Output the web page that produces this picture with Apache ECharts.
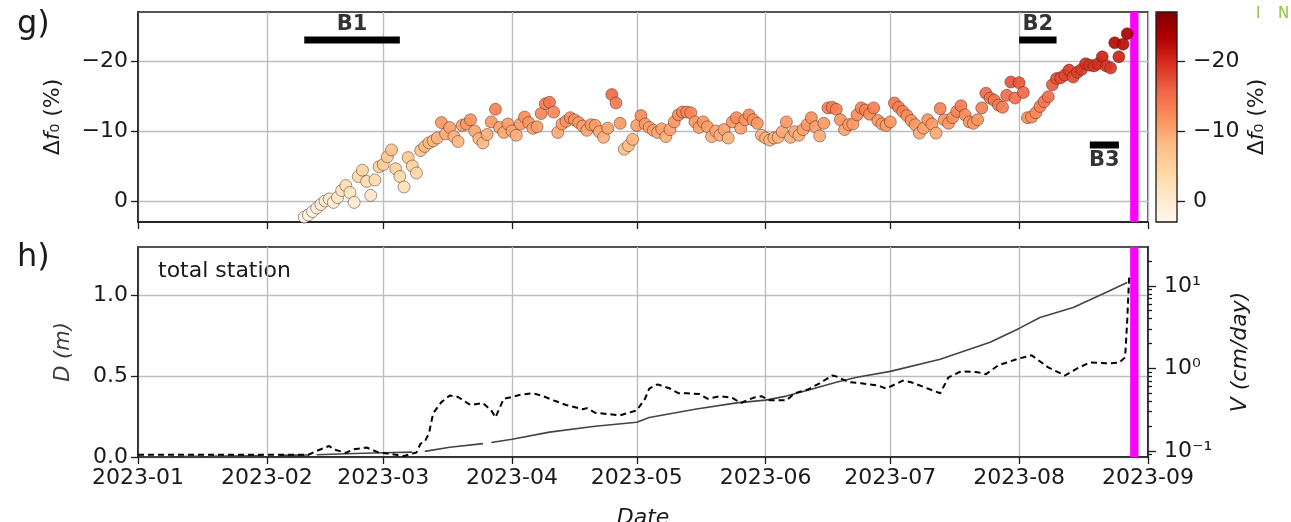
<!DOCTYPE html>
<html>
<head>
<meta charset="utf-8">
<script src="https://cdn.jsdelivr.net/npm/echarts@6/dist/echarts.min.js"></script>
<style>
  html, body { margin: 0; padding: 0; background: #ffffff; }
  #chart { width: 1291px; height: 522px; }
</style>
</head>
<body>
<div id="chart"></div>
<script>
// ---- month ticks shared by both panels ----
const monthTicks = ['2023-01-01', '2023-02-01', '2023-03-01', '2023-04-01', '2023-05-01',
                    '2023-06-01', '2023-07-01', '2023-08-01', '2023-09-01'];

// ---- panel g: daily relative change of the resonance frequency (%) ----
const f0Start = '2023-02-10';
const f0Values = [
  // Feb 10 - Feb 28
  2.3, 2.0, 1.5, 1.0, 0.5, 0.0, -0.3, 0.2, -0.5, -1.5, -2.2, -1.2, 0.2, -3.5, -4.4, -2.8, -0.8, -3.0, -4.9,
  // March
  -5.2, -6.3, -7.3, -4.6, -3.5, -2.0, -6.2, -5.0, -4.0, -7.2, -7.8, -8.3, -8.6, -9.0, -11.2, -9.6,
  -10.5, -9.2, -8.5, -10.8, -11.0, -11.6, -10.0, -8.9, -8.3, -9.5, -11.3, -13.1, -10.5, -9.8, -11.0,
  // April
  -10.0, -9.4, -11.0, -12.0, -11.2, -10.4, -10.6, -12.5, -13.9, -14.1, -12.7, -9.8, -11.0, -11.4, -11.9,
  -11.6, -11.2, -10.7, -10.1, -10.9, -10.8, -9.9, -9.1, -10.4, -15.2, -14.0, -11.1, -7.4, -7.9, -8.8,
  // May
  -10.8, -12.2, -11.0, -10.5, -10.1, -9.8, -10.3, -9.2, -10.2, -11.3, -12.3, -12.7, -12.7, -12.6, -11.3,
  -10.5, -11.3, -10.6, -9.2, -10.0, -9.4, -10.2, -9.0, -11.3, -11.9, -10.4, -11.6, -12.3, -11.6, -11.1, -9.4,
  // June
  -9.0, -8.7, -9.0, -9.1, -9.9, -11.3, -9.1, -9.9, -9.4, -10.2, -10.9, -11.9, -10.6, -9.3, -11.1,
  -13.3, -13.4, -13.1, -11.6, -10.2, -10.9, -11.0, -12.3, -13.3, -13.0, -12.4, -13.3, -11.5, -11.0, -10.8,
  // July
  -11.3, -14.0, -13.4, -12.8, -12.2, -11.5, -10.9, -9.7, -10.4, -11.6, -11.0, -9.7, -13.2, -11.6, -11.1,
  -11.9, -12.8, -13.6, -12.3, -11.3, -11.1, -11.6, -13.3, -15.4, -14.7, -14.4, -13.7, -13.4, -15.1, -17.0, -14.7,
  // August 1 - 27
  -16.9, -15.5, -11.9, -12.0, -12.6, -13.5, -14.2, -14.9, -16.6, -17.5, -17.6, -18.0, -18.7, -17.7,
  -18.4, -18.8, -19.6, -19.4, -19.3, -19.6, -20.6, -19.3, -19.0, -22.6, -20.6, -22.4, -23.9
];
const f0Ticks = [-20, -10, 0];
const f0Range = [-27, 3];

// ---- measurement periods B1-B3 ----
const periodNames  = ['B1', 'B2', 'B3'];
const periodStarts = ['2023-02-10', '2023-08-01', '2023-08-18'];
const periodEnds   = ['2023-03-05', '2023-08-10', '2023-08-25'];
const periodLevels = [-23, -23, -8];

// ---- panel h: total station displacement D (m), null = no data ----
const dispDates = [
  '2023-01-01', '2023-01-09', '2023-01-10', '2023-01-12', '2023-01-16', '2023-01-17', '2023-01-18',
  '2023-01-31', '2023-02-02', '2023-02-04', '2023-02-11', '2023-02-12', '2023-02-13', '2023-02-20',
  '2023-03-01', '2023-03-08', '2023-03-09', '2023-03-11', '2023-03-17', '2023-03-25', '2023-03-26',
  '2023-03-27', '2023-04-01', '2023-04-10', '2023-04-21', '2023-05-01', '2023-05-04', '2023-05-15',
  '2023-05-25', '2023-06-01', '2023-06-06', '2023-06-12', '2023-06-18', '2023-06-23', '2023-07-01',
  '2023-07-13', '2023-07-25', '2023-08-01', '2023-08-06', '2023-08-14', '2023-08-22', '2023-08-27'
];
const dispValues = [
  0.000, 0.002, null, 0.003, 0.004, null, 0.005,
  0.008, null, 0.010, 0.012, null, 0.014, 0.020,
  0.026, 0.030, null, 0.035, 0.060, 0.083, null,
  0.090, 0.110, 0.154, 0.190, 0.215, 0.245, 0.296,
  0.335, 0.352, 0.377, 0.420, 0.463, 0.494, 0.530,
  0.605, 0.710, 0.796, 0.864, 0.926, 1.020, 1.080
];
const dispTicks = [0, 0.5, 1.0];

// ---- panel h: velocity V (cm/day), log axis ----
const velDates = [
  '2023-01-01', '2023-01-16', '2023-01-30', '2023-02-11', '2023-02-13', '2023-02-15', '2023-02-16',
  '2023-02-17', '2023-02-20', '2023-02-21', '2023-02-22', '2023-02-25', '2023-02-27', '2023-02-28',
  '2023-03-02', '2023-03-04', '2023-03-06', '2023-03-09', '2023-03-10', '2023-03-11', '2023-03-12',
  '2023-03-13', '2023-03-15', '2023-03-17', '2023-03-19', '2023-03-22', '2023-03-25', '2023-03-27',
  '2023-03-28', '2023-03-30', '2023-04-01', '2023-04-03', '2023-04-06', '2023-04-08', '2023-04-11',
  '2023-04-14', '2023-04-18', '2023-04-19', '2023-04-21', '2023-04-24', '2023-04-27', '2023-04-29',
  '2023-05-01', '2023-05-03', '2023-05-04', '2023-05-06', '2023-05-09', '2023-05-11', '2023-05-13',
  '2023-05-16', '2023-05-18', '2023-05-21', '2023-05-24', '2023-05-26', '2023-05-29', '2023-05-31',
  '2023-06-02', '2023-06-06', '2023-06-08', '2023-06-11', '2023-06-14', '2023-06-17', '2023-06-18',
  '2023-06-21', '2023-06-24', '2023-06-28', '2023-06-30', '2023-07-04', '2023-07-06', '2023-07-10',
  '2023-07-13', '2023-07-15', '2023-07-18', '2023-07-22', '2023-07-24', '2023-07-27', '2023-08-01',
  '2023-08-04', '2023-08-08', '2023-08-12', '2023-08-15', '2023-08-18', '2023-08-22', '2023-08-25',
  '2023-08-26T12:00', '2023-08-27T00:00', '2023-08-27T12:00'
];
const velValues = [
  0.090, 0.090, 0.090, 0.090, 0.100, 0.110, 0.115,
  0.105, 0.095, 0.100, 0.105, 0.110, 0.100, 0.095,
  0.093, 0.090, 0.087, 0.096, 0.123, 0.130, 0.163,
  0.285, 0.390, 0.470, 0.450, 0.360, 0.380, 0.310,
  0.255, 0.430, 0.450, 0.480, 0.500, 0.470, 0.410,
  0.360, 0.320, 0.330, 0.290, 0.280, 0.270, 0.290,
  0.310, 0.430, 0.570, 0.640, 0.570, 0.500, 0.500,
  0.490, 0.430, 0.460, 0.440, 0.380, 0.440, 0.460,
  0.410, 0.410, 0.500, 0.550, 0.660, 0.820, 0.800,
  0.680, 0.660, 0.620, 0.570, 0.710, 0.680, 0.570,
  0.500, 0.780, 0.920, 0.900, 0.850, 1.090, 1.320,
  1.440, 1.030, 0.820, 1.000, 1.180, 1.150, 1.170,
  1.36, 3.8, 14.0
];
const velTicks = [0.1, 1, 10];
const velMinorTicks = [0.09, 0.2, 0.3, 0.4, 0.5, 0.6, 0.7, 0.8, 0.9, 2, 3, 4, 5, 6, 7, 8, 9, 20];
const velRange = [0.0845, 29.5];

// ---- failure window (magenta band) ----
const failureWindow = ['2023-08-27T17:00', '2023-08-29T17:00'];

// ---------------------------------------------------------------
const FONT = 'DejaVu Sans';
const INK = '#1a1a1a';
const toTime = s => echarts.number.parseDate(s).getTime();
const monthStamps = monthTicks.map(toTime);
const xMin = monthStamps[0];
const xMax = monthStamps[monthStamps.length - 1];
const minusSign = v => String(v).replace('-', '\u2212');
const SUP = { '-': '\u207B', '0': '\u2070', '1': '\u00B9', '2': '\u00B2', '3': '\u00B3' };
const powerLabel = v => {
  const e = Math.round(Math.log10(v));
  if (Math.abs(Math.log10(v) - e) > 1e-6) return '';
  return '10' + String(e).split('').map(c => SUP[c] || c).join('');
};

const f0Data = f0Values.map((v, i) => {
  const d = echarts.number.parseDate(f0Start);
  d.setDate(d.getDate() + i);
  return [d.getTime(), v];
});
const dispData = dispDates.map((d, i) => [toTime(d), dispValues[i]]);
const velData = velDates.map((d, i) => [toTime(d), velValues[i]]);

const gridLine = { show: true, lineStyle: { color: '#bdbdbd', width: 1.4 } };
const axisLineStyle = { show: true, onZero: false, lineStyle: { color: INK, width: 1.5 } };
const tickStyle = { color: INK, width: 1.3 };
const labelStyle = { fontSize: 22, color: INK, fontFamily: FONT };

// date axis drawn as a numeric (epoch ms) axis with month-start ticks
function dateAxis(gridIndex, showLabels) {
  return {
    type: 'value', gridIndex: gridIndex, min: xMin, max: xMax,
    axisLine: axisLineStyle,
    axisTick: { show: true, length: 7, lineStyle: tickStyle, customValues: monthStamps },
    axisLabel: Object.assign({
      show: showLabels, margin: 10, customValues: monthStamps,
      formatter: v => echarts.time.format(v, '{yyyy}-{MM}', false)
    }, labelStyle),
    splitLine: gridLine
  };
}

const failureArea = {
  silent: true,
  itemStyle: { color: '#ff00ff', opacity: 1 },
  data: [[{ xAxis: toTime(failureWindow[0]) }, { xAxis: toTime(failureWindow[1]) }]]
};

const f0Ramp = ['#7f0000', '#b30000', '#d7301f', '#ef6548', '#fc8d59',
                '#fdbb84', '#fdd49e', '#fee8c8', '#fff7ec'];

const periodSeries = periodNames.map((name, i) => ({
  type: 'line', name: name, xAxisIndex: 0, yAxisIndex: 0,
  symbol: 'none', silent: true, z: 5,
  lineStyle: { color: '#000000', width: 7, cap: 'butt' },
  data: [[toTime(periodStarts[i]), periodLevels[i]], [toTime(periodEnds[i]), periodLevels[i]]],
  markArea: i === 0 ? failureArea : undefined
}));

const periodLabels = {
  type: 'scatter', xAxisIndex: 0, yAxisIndex: 0, symbolSize: 0, silent: true, z: 6,
  data: periodNames.map((name, i) => ({
    name: name,
    value: [(toTime(periodStarts[i]) + toTime(periodEnds[i])) / 2, periodLevels[i]],
    label: { position: periodLevels[i] < -15 ? 'top' : 'bottom' }
  })),
  label: {
    show: true, distance: 5, formatter: p => p.name,
    fontSize: 21, fontWeight: 'bold', color: '#000', fontFamily: FONT
  }
};

const gridBase = { show: true, borderColor: INK, outerBoundsMode: 'none', containLabel: false };

const chart = echarts.init(document.getElementById('chart'));
chart.setOption({
  animation: false,
  textStyle: { fontFamily: FONT },
  grid: [
    Object.assign({ left: 138, top: 12, width: 1010, height: 210, borderWidth: 1.5, backgroundColor: '#fff' }, gridBase),
    Object.assign({ left: 138, top: 247, width: 1010, height: 210, borderWidth: 1.5, backgroundColor: '#fff' }, gridBase),
    Object.assign({ left: 1156, top: 12, width: 21, height: 210, borderWidth: 1.3,
      backgroundColor: 'rgba(0,0,0,0)', z: 10 }, gridBase)
  ],
  xAxis: [
    dateAxis(0, false),
    Object.assign(dateAxis(1, true), {
      name: 'Date', nameLocation: 'middle', nameGap: 50,
      nameTextStyle: { fontSize: 22, fontStyle: 'italic', color: INK, fontFamily: FONT }
    }),
    { type: 'value', gridIndex: 2, min: 0, max: 1, show: false }
  ],
  yAxis: [
    {
      type: 'value', gridIndex: 0, inverse: true, min: f0Range[0], max: f0Range[1], splitNumber: 3,
      axisLine: axisLineStyle,
      axisTick: { show: true, length: 7, lineStyle: tickStyle, customValues: f0Ticks },
      axisLabel: Object.assign({ margin: 10, customValues: f0Ticks, formatter: minusSign }, labelStyle),
      splitLine: gridLine,
      name: '\u0394{i|f}\u2080 (%)', nameLocation: 'middle', nameGap: 74, nameRotate: 90,
      nameTextStyle: { fontSize: 22, color: INK, fontFamily: FONT,
        rich: { i: { fontStyle: 'italic', fontSize: 22, color: INK, fontFamily: FONT } } }
    },
    {
      type: 'value', gridIndex: 1, min: 0, max: 1.3, interval: 0.5,
      axisLine: axisLineStyle,
      axisTick: { show: true, length: 7, lineStyle: tickStyle, customValues: dispTicks },
      axisLabel: Object.assign({ margin: 10, customValues: dispTicks, formatter: v => v.toFixed(1) }, labelStyle),
      splitLine: gridLine,
      name: 'D (m)', nameLocation: 'middle', nameGap: 64, nameRotate: 90,
      nameTextStyle: { fontSize: 21, fontStyle: 'italic', color: '#3c3c3c', fontFamily: FONT }
    },
    {
      type: 'log', logBase: 10, gridIndex: 1, position: 'right', min: velRange[0], max: velRange[1],
      axisLine: axisLineStyle,
      axisTick: { show: true, length: 8, lineStyle: tickStyle, customValues: velTicks },
      axisLabel: Object.assign({ margin: 16, customValues: velTicks, formatter: powerLabel }, labelStyle),
      splitLine: { show: false },
      name: 'V (cm/day)', nameLocation: 'middle', nameGap: 81, nameRotate: 90,
      nameTextStyle: { fontSize: 22, fontStyle: 'italic', color: INK, fontFamily: FONT }
    },
    {
      type: 'value', gridIndex: 1, position: 'right',
      min: Math.log10(velRange[0]), max: Math.log10(velRange[1]),
      axisLine: { show: false, onZero: false },
      axisTick: { show: true, length: 4, lineStyle: tickStyle, customValues: velMinorTicks.map(Math.log10) },
      axisLabel: { show: false },
      splitLine: { show: false }
    },
    {
      type: 'value', gridIndex: 2, position: 'right', inverse: true, min: f0Range[0], max: f0Range[1], splitNumber: 3,
      axisLine: { show: false, onZero: false },
      axisTick: { show: true, length: 8, lineStyle: tickStyle, customValues: f0Ticks },
      axisLabel: Object.assign({ margin: 16, customValues: f0Ticks, formatter: minusSign }, labelStyle),
      splitLine: { show: false },
      name: '\u0394{i|f}\u2080 (%)', nameLocation: 'middle', nameGap: 69, nameRotate: 90,
      nameTextStyle: { fontSize: 22, color: INK, fontFamily: FONT,
        rich: { i: { fontStyle: 'italic', fontSize: 22, color: INK, fontFamily: FONT } } }
    }
  ],
  visualMap: [{
    type: 'continuous', seriesIndex: 0, dimension: 1,
    min: f0Range[0], max: f0Range[1], inverse: true, orient: 'vertical',
    left: 1156, top: 12, itemWidth: 21, itemHeight: 210, padding: 0,
    calculable: false, hoverLink: false, text: null,
    inRange: { color: f0Ramp }
  }],
  series: [
    {
      type: 'scatter', xAxisIndex: 0, yAxisIndex: 0, symbolSize: 12, z: 3,
      itemStyle: { borderColor: 'rgba(70,40,30,0.75)', borderWidth: 0.7, opacity: 0.92 },
      data: f0Data
    },
    ...periodSeries,
    periodLabels,
    {
      type: 'line', xAxisIndex: 1, yAxisIndex: 1, symbol: 'none', connectNulls: false,
      lineStyle: { color: '#444444', width: 1.6 },
      data: dispData,
      markArea: failureArea
    },
    {
      type: 'line', xAxisIndex: 1, yAxisIndex: 2, symbol: 'none', z: 4,
      lineStyle: { color: '#000000', width: 2, type: [6, 4] },
      data: velData
    }
  ],
  graphic: [
    { type: 'text', left: 17, top: 9, style: { text: 'g)', font: '32px "DejaVu Sans"', fill: INK } },
    { type: 'text', left: 17, top: 242, style: { text: 'h)', font: '32px "DejaVu Sans"', fill: INK } },
    { type: 'text', left: 158, top: 260, style: { text: 'total station', font: '22px "DejaVu Sans"', fill: INK } },
    { type: 'text', left: 1256, top: 7, style: { text: 'I', font: '15px "DejaVu Sans"', fill: '#8dc641' } },
    { type: 'text', left: 1278, top: 7, style: { text: 'N', font: '15px "DejaVu Sans"', fill: '#8dc641' } }
  ]
});
</script>
</body>
</html>
